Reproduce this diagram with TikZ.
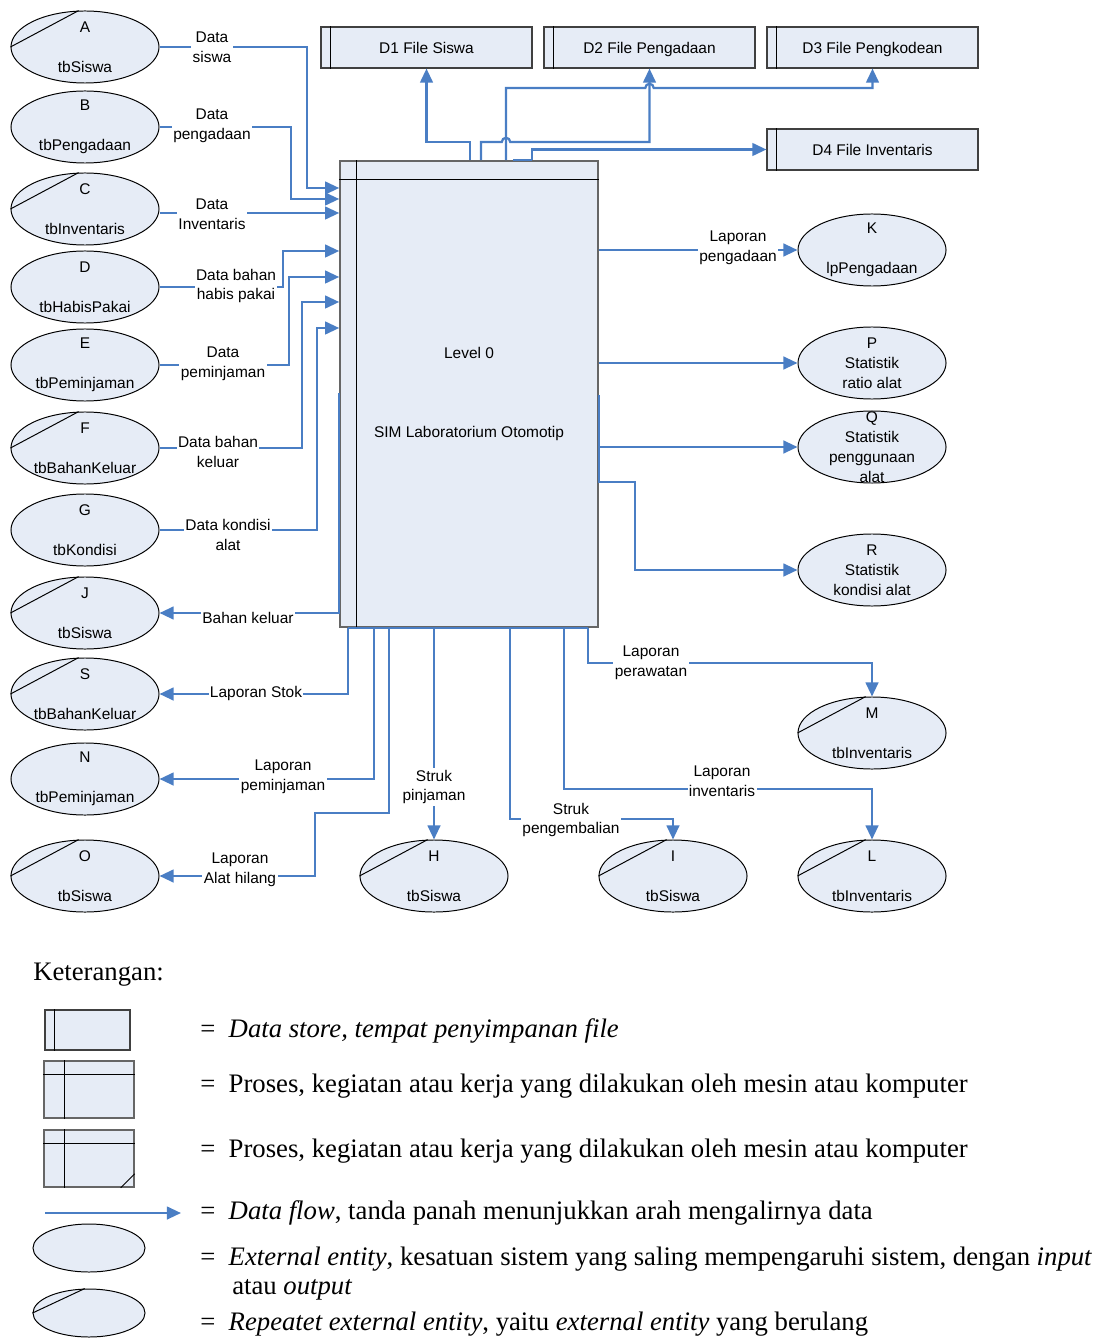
\documentclass[tikz,border=0pt]{standalone}
\usepackage{fontspec}
\setmainfont{Liberation Serif}
\newfontfamily\diagfont{Liberation Sans}
\usetikzlibrary{arrows.meta,shapes.geometric,positioning,calc}
\definecolor{flowblue}{HTML}{4A7EC4}
\definecolor{shapefill}{HTML}{E6ECF6}

\begin{document}
\begin{tikzpicture}[
  x=0.025cm, y=-0.025cm,
  every node/.style={font=\diagfont\fontsize{11}{14.2}\selectfont},
  entity/.style={ellipse, draw=black, fill=shapefill, line width=0.7pt,
                 minimum width=3.7cm, minimum height=1.8cm,
                 inner sep=-10pt, align=center},
  store/.style={rectangle, draw=black!75, fill=shapefill, line width=0.8pt,
                minimum width=5.275cm, minimum height=1.025cm,
                text height=8pt, text depth=0pt},
  process/.style={rectangle, draw=black!60, fill=shapefill, line width=1.1pt,
                  minimum width=6.45cm, minimum height=11.65cm, align=center},
  flow/.style={draw=flowblue, line width=1.6pt, -{Triangle[length=10pt,width=9pt]}},
  wire/.style={draw=flowblue, line width=1.6pt},
  lbl/.style={fill=white, inner sep=1pt, align=center},
  legend/.style={font=\rmfamily\fontsize{19}{22}\selectfont, anchor=west, inner sep=0pt},
]
\useasboundingbox (0,0) rectangle (1099,1338);

% data stores
\node[store] (D1) at (426.5,47.5) {D1 File Siswa};
\node[store] (D2) at (649.5,47.5) {D2 File Pengadaan};
\node[store] (D3) at (872.5,47.5) {D3 File Pengkodean};
\node[store] (D4) at (872.5,149.5) {D4 File Inventaris};

% the process
\node[process] (lvl0) at (469,394) {Level 0\\[42pt]SIM Laboratorium Otomotip};
\draw[line width=0.6pt] ($(lvl0.north west)+(17,0)$) -- ($(lvl0.south west)+(17,0)$);
\draw[line width=0.6pt] ($(lvl0.north west)+(0,19)$) -- ($(lvl0.north east)+(0,19)$);

% entities, left column
\node[entity] (A) at (85,47)  {A\\[14.2pt]tbSiswa};
\node[entity] (B) at (85,127) {B\\[14.2pt]tbPengadaan};
\node[entity] (C) at (85,209) {C\\[14.2pt]tbInventaris};
\node[entity] (D) at (85,287) {D\\[14.2pt]tbHabisPakai};
\node[entity] (E) at (85,365) {E\\[14.2pt]tbPeminjaman};
\node[entity] (F) at (85,448) {F\\[14.2pt]tbBahanKeluar};
\node[entity] (G) at (85,530) {G\\[14.2pt]tbKondisi};
\node[entity] (J) at (85,613) {J\\[14.2pt]tbSiswa};
\node[entity] (S) at (85,694) {S\\[14.2pt]tbBahanKeluar};
\node[entity] (N) at (85,779) {N\\[14.2pt]tbPeminjaman};
\node[entity] (O) at (85,876) {O\\[14.2pt]tbSiswa};

% entities, bottom and right
\node[entity] (H) at (434,876) {H\\[14.2pt]tbSiswa};
\node[entity] (I) at (673,876) {I\\[14.2pt]tbSiswa};
\node[entity] (L) at (872,876) {L\\[14.2pt]tbInventaris};
\node[entity] (M) at (872,733) {M\\[14.2pt]tbInventaris};
\node[entity] (K) at (872,250) {K\\[14.2pt]lpPengadaan};
\node[entity] (P) at (872,363) {P\\Statistik\\ratio alat};
\node[entity] (Q) at (872,447) {Q\\Statistik\\penggunaan\\alat};
\node[entity] (R) at (872,570) {R\\Statistik\\kondisi alat};

% repeated entities get a slash
\foreach \e in {A,C,F,J,S,O,H,I,M,L}
  \draw[line width=0.7pt] (\e.west) -- (\e.100);

% inputs
\draw[flow] (A.east) -| (307,188) -- (lvl0.west |- 0,188);
\draw[flow] (B.east) -| (291,199) -- (lvl0.west |- 0,199);
\draw[flow] (C.east |- 0,213) -- (lvl0.west |- 0,213);
\draw[flow] (D.east) -| (283,251) -- (lvl0.west |- 0,251);
\draw[flow] (E.east) -| (289,277) -- (lvl0.west |- 0,277);
\draw[flow] (F.east) -| (302,302) -- (lvl0.west |- 0,302);
\draw[flow] (G.east) -| (317,328) -- (lvl0.west |- 0,328);

% outputs
\draw[flow] (lvl0.west |- 0,393) |- (J.east);
\draw[wire] (348,0 |- lvl0.south) -- (588,0 |- lvl0.south);
\draw[flow] (348,0 |- lvl0.south) |- (S.east);
\draw[flow] (374,0 |- lvl0.south) |- (N.east);
\draw[flow] (389,0 |- lvl0.south) -- (389,813) -| (315,876) -- (O.east);
\draw[flow] (H.north |- lvl0.south) -- (H.north);
\draw[flow] (510,0 |- lvl0.south) |- (I.north |- 0,819) -- (I.north);
\draw[flow] (564,0 |- lvl0.south) |- (L.north |- 0,789) -- (L.north);
\draw[flow] (588,0 |- lvl0.south) |- (M.north |- 0,663) -- (M.north);
\draw[flow] (lvl0.east |- K.west) -- (K.west);
\draw[flow] (lvl0.east |- P.west) -- (P.west);
\draw[flow] (lvl0.east |- 0,395) |- (Q.west);
\draw[flow] (lvl0.east |- 0,448) -- (lvl0.east |- 0,482) -| (635,570) -- (R.west);

% to the data stores
\draw[flow] (470,0 |- lvl0.north) |- (D1.south |- 0,142) -- (D1.south);
\draw[flow] (481,0 |- lvl0.north) -- (481,142) -- ([xshift=-3pt]506,142)
  arc[start angle=180, end angle=0, radius=3pt] -- (D2.south |- 0,142) -- (D2.south);
\draw[flow] (506,0 |- lvl0.north) -- (506,88) -- ([xshift=-3pt]D2.south |- 0,88)
  arc[start angle=180, end angle=0, radius=3pt] -- (D3.south |- 0,88) -- (D3.south);
\draw[wire] (513,0 |- lvl0.north) -- (532,0 |- lvl0.north);
\draw[flow] (532,0 |- lvl0.north) |- (D4.west);

% flow labels
\node[lbl] (lA) at (212,47)  {Data\\siswa};
\node[lbl] (lB) at (212,126) {Data\\pengadaan};
\node[lbl] (lC) at (212,214) {Data\\Inventaris};
\node[lbl] (lD) at (236,286) {Data bahan\\habis pakai};
\node[lbl] (lE) at (223,364) {Data\\peminjaman};
\node[lbl] (lF) at (218,452) {Data bahan\\keluar};
\node[lbl] (lG) at (228,535) {Data kondisi\\alat};
\node[lbl] (lJ) at (248,618) {Bahan keluar};
\node[lbl] (lS) at (256,693) {Laporan Stok};
\node[lbl] (lN) at (283,777) {Laporan\\peminjaman};
\node[lbl] (lO) at (240,870) {Laporan\\Alat hilang};
\node[lbl] (lH) at (434,787) {Struk\\pinjaman};
\node[lbl] (lI) at (571,820) {Struk\\pengembalian};
\node[lbl] (lL) at (722,781) {Laporan\\inventaris};
\node[lbl] (lM) at (651,663) {Laporan\\perawatan};
\node[lbl] (lK) at (738,248) {Laporan\\pengadaan};

% legend
\node[legend] (ket) at (33,975) {Keterangan:};
\node[store, minimum width=2.125cm, minimum height=1cm] (kD) at (87.5,1030) {};
\foreach \d in {D1,D2,D3,D4,kD}
  \draw[line width=0.6pt] ($(\d.north west)+(10,0)$) -- ($(\d.south west)+(10,0)$);
\node[process, minimum width=2.25cm, minimum height=1.425cm] (kP1) at (89,1089.5) {};
\node[process, minimum width=2.25cm, minimum height=1.425cm] (kP2) at (89,1158.5) {};
\foreach \p in {kP1,kP2} {
  \draw[line width=0.6pt] ($(\p.north west)+(21,0)$) -- ($(\p.south west)+(21,0)$);
  \draw[line width=0.6pt] ($(\p.north west)+(0,14)$) -- ($(\p.north east)+(0,14)$);
}
\draw[line width=0.6pt] ($(kP2.south east)+(-14,0)$) -- ($(kP2.south east)+(0,-14)$);
\coordinate (kF1) at (45,1213);
\coordinate (kF2) at (181,1213);
\draw[flow] (kF1) -- (kF2);
\node[entity, minimum width=2.8cm, minimum height=1.2cm] (kE) at (89,1248) {};
\node[entity, minimum width=2.8cm, minimum height=1.2cm] (kR) at (89,1313) {};
\draw[line width=0.7pt] (kR.west) -- (kR.100);

\node[legend] (t1) at (200,1031) {=\enspace\textit{Data store, tempat penyimpanan file}};
\node[legend] (t2) at (200,1086) {=\enspace Proses, kegiatan atau kerja yang dilakukan oleh mesin atau komputer};
\node[legend] (t3) at (200,1151) {=\enspace Proses, kegiatan atau kerja yang dilakukan oleh mesin atau komputer};
\node[legend] (t4) at (200,1213) {=\enspace\textit{Data flow}, tanda panah menunjukkan arah mengalirnya data};
\node[legend] (t5) at (200,1259) {=\enspace\textit{External entity}, kesatuan sistem yang saling mempengaruhi sistem, dengan \textit{input}};
\node[legend] (t6) at (232,1290) {atau \textit{output}};
\node[legend] (t7) at (200,1324) {=\enspace\textit{Repeatet external entity}, yaitu \textit{external entity} yang berulang};

\end{tikzpicture}
\end{document}
